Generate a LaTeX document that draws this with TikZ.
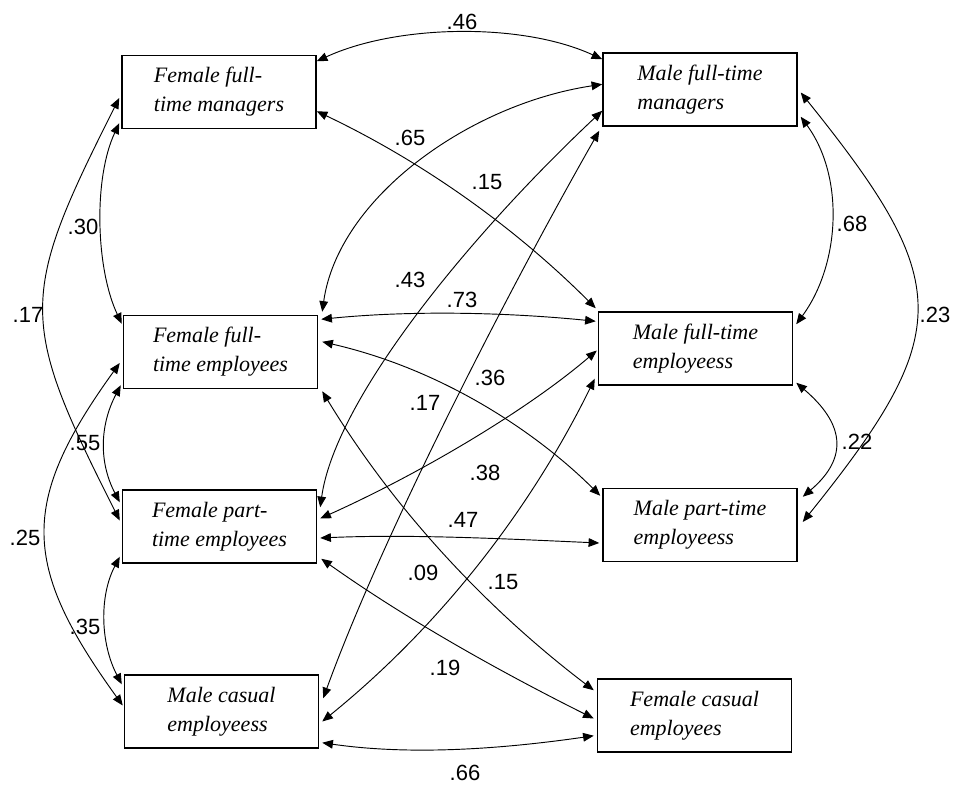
\documentclass[tikz,border=0pt]{standalone}
\usepackage{fontspec}
\setmainfont{Liberation Serif}
\setsansfont{Liberation Sans}
\usepackage{tikz}
\usetikzlibrary{calc,arrows.meta}

\begin{document}
\begin{tikzpicture}[x=0.75pt,y=0.75pt,yscale=-1,xscale=1,
    var/.style={draw, line width=1.1pt, minimum width=145.5pt, minimum height=54.75pt,
        inner sep=0pt, align=left, font=\itshape\fontsize{16.5}{21.75}\selectfont},
    corr/.style={{Triangle[length=8pt,width=6.5pt]}-{Triangle[length=8pt,width=6.5pt]}, line width=0.7pt},
    coef/.style={font=\sffamily\fontsize{16.5}{18}\selectfont, inner sep=0pt}]
\useasboundingbox (0,0) rectangle (958,785);
%Boxes
\node[var] (ffm) at (219,92) {Female full-\\time managers};
\node[var] (mfm) at (700,89.5) {Male full-time\\managers};
\node[var] (ffe) at (220.5,352) {Female full-\\time employees};
\node[var] (mfe) at (695.5,348.5) {Male full-time\\employeess};
\node[var] (fpe) at (219.5,526.5) {Female part-\\time employees};
\node[var] (mpe) at (700,525) {Male part-time\\employeess};
\node[var] (mce) at (221.5,711.5) {Male casual\\employeess};
\node[var] (fce) at (694.5,715.5) {Female casual\\employees};
%Curve Lines, left side
\draw[corr] ($(ffm.south west)+(-2,-6)$) .. controls +(-26,55) and +(-26,-55) .. ($(ffe.north west)+(-1,9)$);
\draw[corr] ($(ffm.west)+(-2,6)$) .. controls +(-101,200) and +(-101,-200) .. ($(fpe.west)+(-2,-6)$);
\draw[corr] ($(ffe.south west)+(-2,-4)$) .. controls +(-21,40) and +(-21,-40) .. ($(fpe.north west)+(-2,13)$);
\draw[corr] ($(ffe.west)+(-3,11)$) .. controls +(-101,140) and +(-101,-140) .. ($(mce.west)+(-1,-6)$);
\draw[corr] ($(fpe.south west)+(-2,-7)$) .. controls +(-21,40) and +(-21,-40) .. ($(mce.north west)+(-2,10)$);
%Curve Lines, right side
\draw[corr] ($(mfm.south east)+(3,-10)$) .. controls +(44,60) and +(44,-60) .. ($(mfe.north east)+(3,13)$);
\draw[corr] ($(mfm.east)+(3,3)$) .. controls +(153,190) and +(153,-190) .. ($(mpe.east)+(5,-3)$);
\draw[corr] ($(mfe.south east)+(3,-3)$) .. controls +(47,40) and +(47,-40) .. ($(mpe.north east)+(5,9)$);
%Curve Lines, across
\draw[corr] ($(ffm.north east)+(0,6.5)$) .. controls +(80,-37) and +(-80,-37) .. ($(mfm.north west)+(0,7)$);
\draw[corr] ($(ffm.south east)+(0,-18)$) .. controls +(105,50) and +(-82,-82) .. ($(mfe.north west)+(-2,-3)$);
\draw[corr] ($(mfm.north west)+(0,32)$) .. controls +(-133,20) and +(16,-114) .. ($(ffe.north east)+(4,-3)$);
\draw[corr] ($(mfm.south west)+(0,-16)$) .. controls +(-133,125) and +(15,-108) .. ($(fpe.north east)+(3,18)$);
\draw[corr] ($(mfm.south west)+(-3,4)$) .. controls +(-90,158) and +(60,-165) .. ($(mce.north east)+(4,24)$);
\draw[corr] ($(ffe.north east)+(3,4.5)$) .. controls +(90,-9) and +(-90,-9) .. ($(mfe.north west)+(-2,10)$);
\draw[corr] ($(ffe.north east)+(4,27)$) .. controls +(130,30) and +(-55,-55) .. ($(mpe.north west)+(-2,8)$);
\draw[corr] ($(fpe.east)+(3,-8)$) .. controls +(100,-45) and +(-70,60) .. ($(mfe.west)+(-1,2)$);
\draw[corr] ($(mfe.south west)+(-3,-7)$) .. controls +(-66,134) and +(116,-94) .. ($(mce.east)+(3,10)$);
\draw[corr] ($(ffe.south east)+(4,2)$) .. controls +(71,117) and +(-109,-83) .. ($(fce.north west)+(-3,12)$);
\draw[corr] ($(fpe.east)+(3,11.5)$) .. controls +(90,-4) and +(-90,-4) .. ($(mpe.west)+(-3,18)$);
\draw[corr] ($(fpe.south east)+(4,-5)$) .. controls +(86,61) and +(-94,-47) .. ($(fce.west)+(-3,3)$);
\draw[corr] ($(mce.south east)+(3,-6)$) .. controls +(90,13) and +(-90,13) .. ($(fce.south west)+(-3,-17)$);
%Coefficients
\node[coef] (r46) at (462,22) {.46};
\node[coef] (r65) at (410,138) {.65};
\node[coef] (r15a) at (487,182) {.15};
\node[coef] (r30) at (83,227) {.30};
\node[coef] (r68) at (852,224) {.68};
\node[coef] (r17a) at (28,315) {.17};
\node[coef] (r43) at (410,280) {.43};
\node[coef] (r73) at (462,300) {.73};
\node[coef] (r23) at (935,315) {.23};
\node[coef] (r55) at (85,443) {.55};
\node[coef] (r17b) at (425,403) {.17};
\node[coef] (r36) at (490,378) {.36};
\node[coef] (r38) at (485,473) {.38};
\node[coef] (r22) at (857,442) {.22};
\node[coef] (r47) at (463,520) {.47};
\node[coef] (r25) at (25,538) {.25};
\node[coef] (r09) at (423,573) {.09};
\node[coef] (r15b) at (503,582) {.15};
\node[coef] (r35) at (85,627) {.35};
\node[coef] (r19) at (445,668) {.19};
\node[coef] (r66) at (465,773) {.66};
\end{tikzpicture}
\end{document}
